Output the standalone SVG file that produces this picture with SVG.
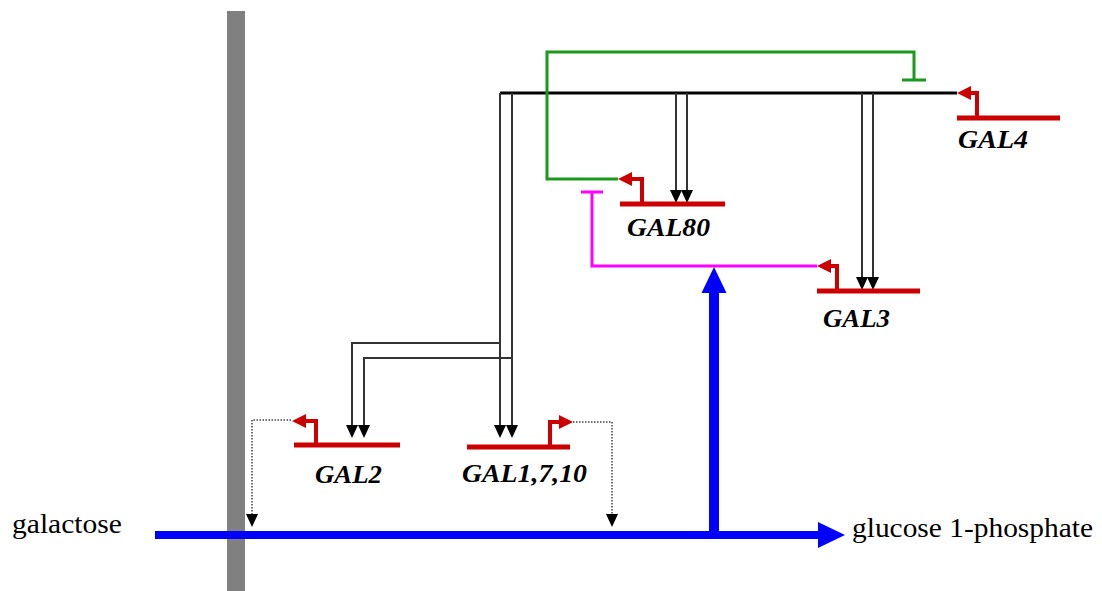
<svg xmlns="http://www.w3.org/2000/svg" width="1102" height="591" viewBox="0 0 1102 591">
<style>
.gene{fill:none;stroke:#cc0000;stroke-width:5}
.prom{fill:none;stroke:#cc0000;stroke-width:4;marker-end:url(#pa)}
.act{fill:none;stroke:#333;stroke-width:2;marker-end:url(#ah)}
.dot{fill:none;stroke:#444;stroke-width:1.5;stroke-dasharray:1.5 1.5;marker-end:url(#ah)}
.lbl{font-family:"Liberation Serif",serif;font-weight:bold;font-style:italic;font-size:25px;fill:#000}
.met{font-family:"Liberation Serif",serif;font-size:28px;fill:#000}
.blue{fill:none;stroke:#0000ff}
</style>
<defs>
<marker id="ah" markerUnits="userSpaceOnUse" viewBox="0 0 13 12" markerWidth="13" markerHeight="12" refX="0" refY="6" orient="auto">
<path d="M0,0 L13,6 L0,12 z" fill="#000"/>
</marker>
<marker id="pa" markerUnits="userSpaceOnUse" viewBox="0 0 14 14" markerWidth="14" markerHeight="14" refX="0" refY="7" orient="auto">
<path d="M0,0 L14,7 L0,14 z" fill="#cc0000"/>
</marker>
</defs>
<rect width="1102" height="591" fill="#fff"/>
<g id="membrane"><rect x="227" y="11" width="18" height="580" fill="#808080"/></g>
<g id="connectors">
<path d="M500,93 H957" fill="none" stroke="#000" stroke-width="3"/>
<path class="act" d="M500,93 V425"/>
<path class="act" d="M512,93 V425"/>
<path class="act" d="M500,343 H352 V425"/>
<path class="act" d="M512,358 H364 V425"/>
<path class="act" d="M676,93 V190"/>
<path class="act" d="M687,93 V190"/>
<path class="act" d="M862,93 V277"/>
<path class="act" d="M873,93 V277"/>
<path d="M618,179 H547 V52 H914 V80 M902,80 H926" fill="none" stroke="#1a9a1a" stroke-width="3"/>
<path d="M817,266 H592 V192 M581,192 H603" fill="none" stroke="#ff00ff" stroke-width="3"/>
<path class="dot" d="M291,420 H252 V514"/>
<path class="dot" d="M573,422 H612 V514"/>
<path class="blue" d="M155,535 H819" stroke-width="8"/>
<polygon points="818,522 845,535 818,548" fill="#0000ff"/>
<path class="blue" d="M714,535 V292" stroke-width="10"/>
<polygon points="701.5,293 714,267 726.5,293" fill="#0000ff"/>
</g>
<g id="galactose"><text class="met" x="12" y="533" textLength="110" lengthAdjust="spacingAndGlyphs">galactose</text></g>
<g id="glucose1p"><text class="met" x="852" y="537" textLength="241" lengthAdjust="spacingAndGlyphs">glucose 1-phosphate</text></g>
<g id="GAL4">
<path class="gene" d="M957,118 H1060"/>
<path class="prom" d="M977,118 V93 H971"/>
<text class="lbl" x="958" y="148" textLength="70" lengthAdjust="spacingAndGlyphs">GAL4</text>
</g>
<g id="GAL80">
<path class="gene" d="M620,204 H725"/>
<path class="prom" d="M642,204 V179 H632"/>
<text class="lbl" x="627" y="236" textLength="83" lengthAdjust="spacingAndGlyphs">GAL80</text>
</g>
<g id="GAL3">
<path class="gene" d="M817,291 H920"/>
<path class="prom" d="M837,291 V266 H831"/>
<text class="lbl" x="823" y="327" textLength="67" lengthAdjust="spacingAndGlyphs">GAL3</text>
</g>
<g id="GAL2">
<path class="gene" d="M294,445 H400"/>
<path class="prom" d="M316,445 V421 H306"/>
<text class="lbl" x="315" y="483" textLength="67" lengthAdjust="spacingAndGlyphs">GAL2</text>
</g>
<g id="GAL1_7_10">
<path class="gene" d="M467,447 H570"/>
<path class="prom" d="M550,447 V422 H559"/>
<text class="lbl" x="462" y="482" textLength="125" lengthAdjust="spacingAndGlyphs">GAL1,7,10</text>
</g>
</svg>
